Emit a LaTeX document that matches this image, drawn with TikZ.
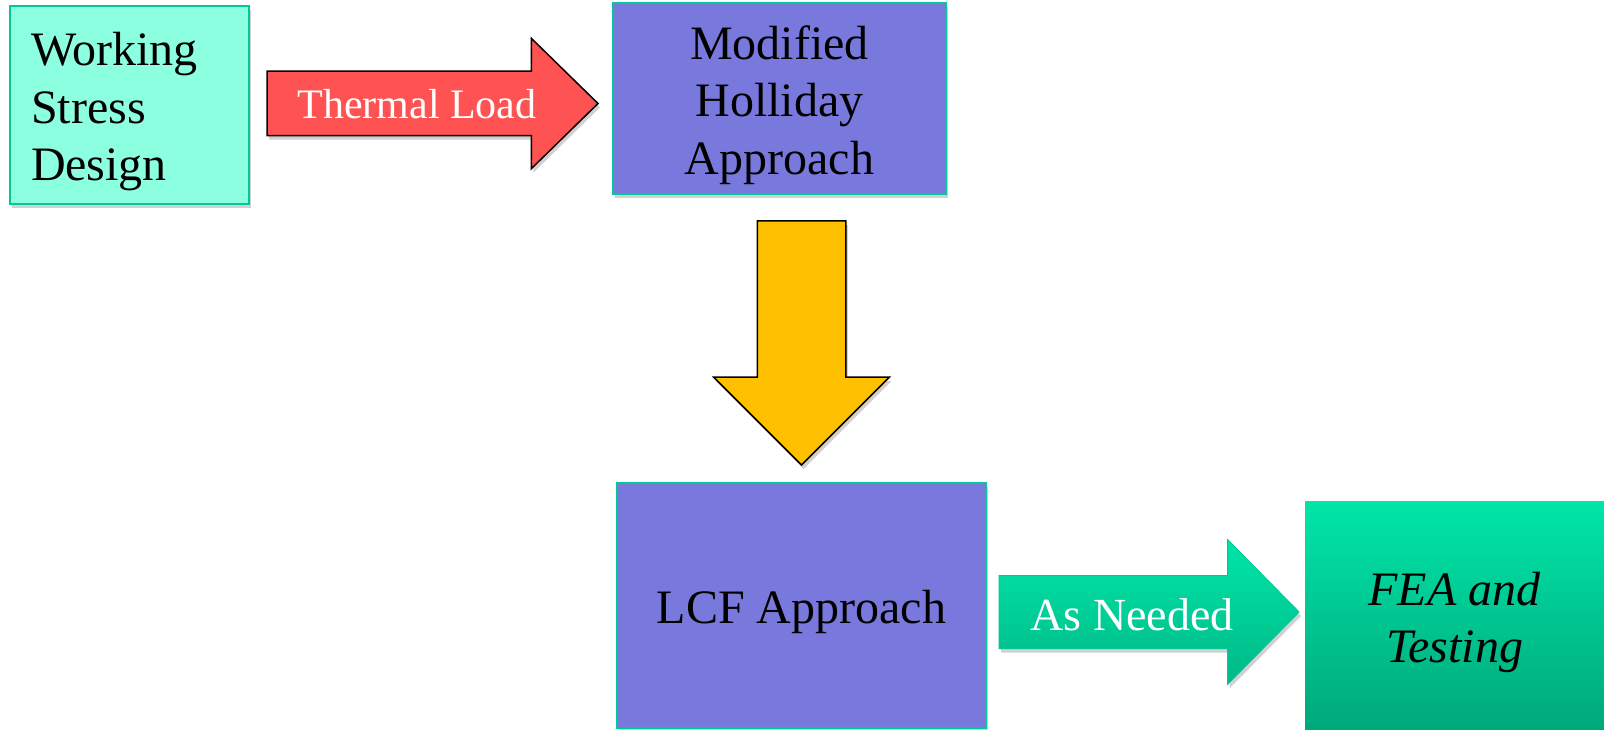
\documentclass[tikz,border=0pt]{standalone}
\usepackage{fontspec}
\setmainfont{Liberation Serif}
\usetikzlibrary{shapes.arrows,shadows}
\definecolor{aquafill}{RGB}{140,255,224}
\definecolor{boxline}{RGB}{0,200,150}
\definecolor{purplefill}{RGB}{121,121,221}
\definecolor{redfill}{RGB}{255,82,82}
\definecolor{yellowfill}{RGB}{255,192,0}
\definecolor{greentop}{RGB}{0,230,168}
\definecolor{greenbot}{RGB}{0,168,122}
\definecolor{greenmid}{RGB}{0,184,136}
\newcommand\tstrut{\rule{0pt}{47pt}}
\begin{document}
\begin{tikzpicture}[x=1pt,y=-1pt,
  shadowed/.style={drop shadow={shadow xshift=2pt,shadow yshift=-4pt,fill=black,opacity=0.18}},
  box/.style={rectangle, draw=boxline, line width=2pt, inner sep=0pt, outer sep=0pt,
    align=center, font=\fontsize{48}{57.6}\selectfont, shadowed},
  blockarrow/.style={single arrow, draw=black, line width=1.5pt, inner xsep=0pt,
    outer sep=0pt, minimum width=0pt, anchor=tail, shadowed},
  arrowtext/.style={text=white, inner sep=0pt}
]
\useasboundingbox (0,0) rectangle (1604,730);

% boxes
\node[box, fill=aquafill, minimum width=239pt, minimum height=198pt,
      text width=197pt, align=left] (wsd) at (129.5,105) {\tstrut Working\\Stress\\Design};
\node[box, fill=purplefill, minimum width=333pt, minimum height=191pt] (mod) at (779.5,98.5)
      {\tstrut Modified\\Holliday\\Approach};
\node[box, fill=purplefill, minimum width=369pt, minimum height=245pt] (lcf) at (801.5,605.5)
      {\tstrut LCF Approach};
\node[box, draw=none, top color=greentop, bottom color=greenbot, minimum width=299pt,
      minimum height=229pt, font=\fontsize{48}{57.6}\selectfont\itshape] (fea) at (1454.5,615.5)
      {\tstrut FEA and\\Testing};

% block arrows
\node[blockarrow, fill=redfill, minimum height=331pt, inner ysep=31.5pt,
      single arrow head extend=33pt, single arrow tip angle=88.7] (ta) at (267,103.5) {};
\node[arrowtext, font=\fontsize{42}{50}\selectfont] (tl) at (417,104) {Thermal Load};

\node[blockarrow, fill=yellowfill, rotate=-90, minimum height=244pt, inner ysep=43.5pt,
      single arrow head extend=43.5pt, single arrow tip angle=90] (da) at (801.5,221) {};

\node[blockarrow, draw=boxline, line width=1pt, top color=greentop, bottom color=greenmid,
      minimum height=300pt, inner ysep=36pt,
      single arrow head extend=36pt, single arrow tip angle=90.8] (an) at (999,612) {};
\node[arrowtext, font=\fontsize{46}{55}\selectfont] (al) at (1132,615) {As Needed};
\end{tikzpicture}
\end{document}
